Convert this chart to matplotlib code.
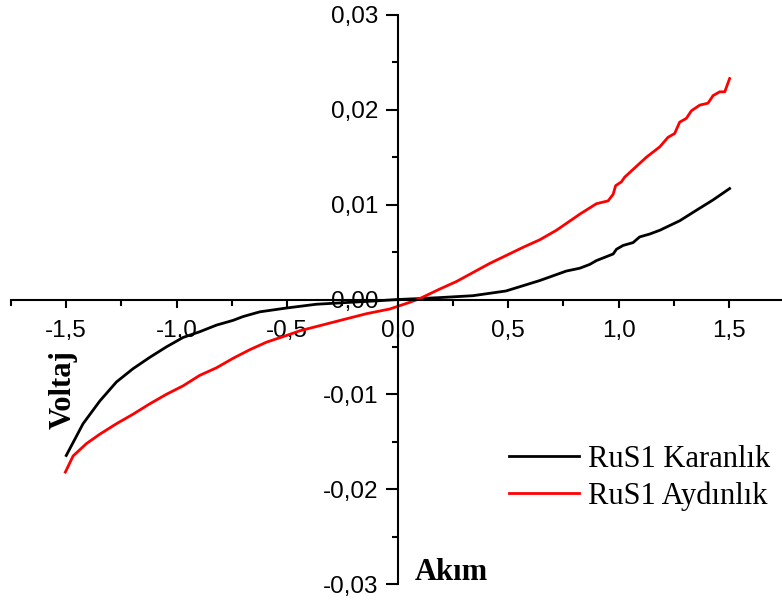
import numpy as np
import matplotlib
matplotlib.use('Agg')
import matplotlib.pyplot as plt
from matplotlib.ticker import FuncFormatter, MultipleLocator

#data (Akim vs Voltaj)
x_dark = [-1.50, -1.424, -1.348, -1.273, -1.198, -1.122, -1.047, -0.971, -0.896, -0.820,
          -0.745, -0.70, -0.624, -0.504, -0.368, -0.217, -0.10, 0.0, 0.10, 0.19, 0.34,
          0.49, 0.643, 0.763, 0.824, 0.869, 0.899, 0.975, 0.99, 1.02, 1.065, 1.095,
          1.14, 1.186, 1.276, 1.351, 1.427, 1.502]
y_dark = [-0.01645, -0.0131, -0.0107, -0.0087, -0.0073, -0.0061, -0.0050, -0.0040, -0.0034, -0.0027,
          -0.0022, -0.0018, -0.0013, -0.0009, -0.0005, -0.0003, -0.00015, 0.0, 0.0001, 0.0002, 0.0004,
          0.0009, 0.0020, 0.0030, 0.0033, 0.0037, 0.0041, 0.0048, 0.0053, 0.0057, 0.0060, 0.0066,
          0.0069, 0.0073, 0.0083, 0.0094, 0.0105, 0.0117]

x_light = [-1.504, -1.469, -1.409, -1.348, -1.273, -1.198, -1.122, -1.047, -0.971, -0.896,
           -0.820, -0.745, -0.670, -0.594, -0.504, -0.443, -0.293, -0.142, -0.036, 0.054, 0.10,
           0.19, 0.266, 0.416, 0.567, 0.643, 0.718, 0.793, 0.824, 0.899, 0.952, 0.975,
           0.986, 1.012, 1.027, 1.125, 1.186, 1.223, 1.253, 1.276, 1.306, 1.329, 1.367,
           1.404, 1.427, 1.457, 1.48, 1.502]
y_light = [-0.0182, -0.0165, -0.0152, -0.0142, -0.0131, -0.0121, -0.0110, -0.0100, -0.0091, -0.0080,
           -0.0072, -0.0062, -0.0053, -0.0045, -0.0038, -0.0033, -0.0024, -0.0015, -0.0010, -0.0003, 0.0001,
           0.0011, 0.0019, 0.0038, 0.0055, 0.0063, 0.0073, 0.0085, 0.0090, 0.0101, 0.0104, 0.0111,
           0.0120, 0.0124, 0.0129, 0.0150, 0.0161, 0.0171, 0.0175, 0.0187, 0.0191, 0.0199, 0.0205,
           0.0207, 0.0215, 0.0219, 0.0219, 0.0233]

labels = ['RuS1 Karanl\u0131k', 'RuS1 Ayd\u0131nl\u0131k']

fig = plt.figure(figsize=(7.82, 6.08), dpi=100)
ax = fig.add_axes([11/782, 24/608, 771/782, 569/608])

ax.plot(x_dark, y_dark, color='black', lw=2.0, label=labels[0])
ax.plot(x_light, y_light, color='#ff0000', lw=2.0, label=labels[1])

ax.set_xlim(-1.75, 1.739)
ax.set_ylim(-0.03, 0.03)

#axes through origin
ax.spines['left'].set_position(('data', 0))
ax.spines['bottom'].set_position(('data', 0))
ax.spines['top'].set_visible(False)
ax.spines['right'].set_visible(False)
for s in ['left', 'bottom']:
  ax.spines[s].set_linewidth(1.5)

ax.xaxis.set_major_locator(MultipleLocator(0.5))
ax.xaxis.set_minor_locator(MultipleLocator(0.25))
ax.yaxis.set_major_locator(MultipleLocator(0.01))
ax.yaxis.set_minor_locator(MultipleLocator(0.005))
ax.xaxis.set_major_formatter(FuncFormatter(lambda v, p: ('%.1f' % v).replace('.', ',').replace('-0,0', '0,0')))
ax.yaxis.set_major_formatter(FuncFormatter(lambda v, p: ('%.2f' % v).replace('.', ',').replace('-0,00', '0,00')))

ax.tick_params(axis='x', which='major', direction='out', length=6, width=1.5, pad=9)
ax.tick_params(axis='x', which='minor', direction='out', length=4, width=1.5)
ax.tick_params(axis='y', which='major', direction='out', length=9, width=1.5, pad=5)
ax.tick_params(axis='y', which='minor', direction='out', length=4.5, width=1.5)
for t in ax.get_xticklabels() + ax.get_yticklabels():
  t.set_fontfamily('Liberation Sans')
  t.set_fontsize(17.5)

fig.text(63/782, 1-390/608, 'Voltaj', rotation=90, ha='center', va='center',
         family='Liberation Serif', fontweight='bold', fontsize=22)
fig.text(451/782, 1-572/608, 'Ak\u0131m', ha='center', va='center',
         family='Liberation Serif', fontweight='bold', fontsize=22)

ax.legend(loc='upper left', bbox_to_anchor=(509/782, 1-445/608), bbox_transform=fig.transFigure,
          frameon=False, prop={'family': 'Liberation Serif', 'size': 22},
          handlelength=2.3, handletextpad=0.3, labelspacing=0.25, borderpad=0, borderaxespad=0)

plt.savefig('out.png', dpi=100)
